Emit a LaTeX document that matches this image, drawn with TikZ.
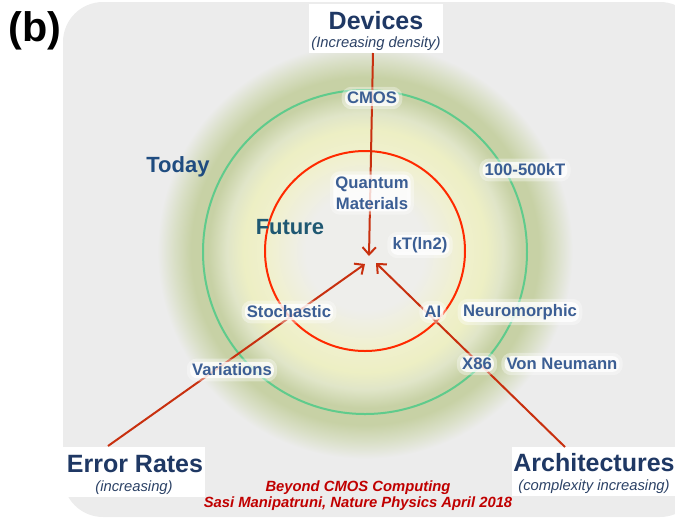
\documentclass[tikz,border=0pt]{standalone}
\usepackage{fontspec}
\setmainfont{Liberation Sans}
\usetikzlibrary{arrows.meta}

\definecolor{bggray}{HTML}{ECECEC}
\definecolor{glowA}{HTML}{EEEEEB}
\definecolor{glowB}{HTML}{F0F0CF}
\definecolor{glowC}{HTML}{EDEFC4}
\definecolor{glowD}{HTML}{E0E5C8}
\definecolor{glowE}{HTML}{C7D1A5}
\definecolor{glowF}{HTML}{D9DFC6}
\definecolor{ringgreen}{HTML}{5FCB8C}
\definecolor{ringred}{HTML}{FF2A00}
\definecolor{arrowred}{HTML}{C8300F}
\definecolor{navy}{HTML}{1F3864}
\definecolor{subnavy}{HTML}{2C4266}
\definecolor{lblblue}{HTML}{3B5E94}
\definecolor{todayblue}{HTML}{1F4C80}
\definecolor{futureteal}{HTML}{1F5872}
\definecolor{credred}{HTML}{C00000}

% soft halo behind the glow ring: gray centre, pale yellow, olive, back to gray
\pgfdeclareradialshading{ringglow}{\pgfpoint{0bp}{0bp}}{%
  color(0bp)=(glowA); color(7bp)=(glowA); color(11.3bp)=(glowB);
  color(14.3bp)=(glowC); color(16.3bp)=(glowD); color(18.5bp)=(glowE);
  color(20.5bp)=(glowE); color(22.5bp)=(glowF); color(24.5bp)=(bggray);
  color(50bp)=(bggray)}

\tikzset{
  whitebox/.style={fill=white, draw=none, inner sep=0pt},
  headfont/.style={font=\fontsize{18.75}{20}\selectfont\bfseries, text=navy, inner sep=0pt},
  subfont/.style={font=\fontsize{11.1}{12}\selectfont\itshape, text=subnavy, inner sep=0pt},
  lbl/.style={font=\fontsize{12.5}{15.75}\selectfont\bfseries, text=lblblue,
    fill=white, fill opacity=0.8, text opacity=1, draw=white, draw opacity=0.35,
    line width=5pt, rounded corners=5pt, inner sep=1.5pt, align=center},
  eralbl/.style={font=\fontsize{16.5}{18}\selectfont\bfseries, inner sep=0pt},
  credit/.style={font=\fontsize{11.1}{12}\selectfont\bfseries\itshape, text=credred, inner sep=0pt},
  ringline/.style={line width=1.5pt},
  arrowline/.style={draw=arrowred, line width=1.5pt, -{Straight Barb[length=5.5pt,width=10pt]}},
}

\begin{document}
\begin{tikzpicture}[x=0.75pt, y=-0.75pt]
\useasboundingbox (0,0) rectangle (675,519);
\clip (0,0) rectangle (675,519);

% panel background
\fill[bggray, rounded corners=30pt] (63,2) rectangle (700,517);

% glow ring (shaded square, larger than the visible halo so no edge shows)
\shade[shading=ringglow] (365-212,251-212) rectangle (365+212,251+212);

% today / future rings
\draw[ringline, ringgreen] (365,252) circle (162);
\draw[ringline, ringred] (365,251) circle (100);

% axis boxes
\node[whitebox, minimum width=100.5pt, minimum height=36.75pt] (dev) at (376,28.5) {};
\node[whitebox, minimum width=106.5pt, minimum height=37.5pt] (err) at (134,472) {};
\node[whitebox, minimum width=126pt, minimum height=36.75pt] (arch) at (596,471.5) {};

% connector end points
\coordinate (devfoot) at (373,53);
\coordinate (errfoot) at (108,446);
\coordinate (archfoot) at (565,447);
\coordinate (hubN) at (369,256);
\coordinate (hubW) at (365,264);
\coordinate (hubE) at (376,263);

\draw[arrowline] (devfoot) -- (hubN);
\draw[arrowline] (errfoot) -- (hubW);
\draw[arrowline] (archfoot) -- (hubE);

% axis titles
\node[headfont] (devt) at (376,21) {Devices};
\node[subfont] (devs) at (376,44) {(Increasing density)};
\node[headfont] (errt) at (135,464) {Error Rates};
\node[subfont] (errs) at (134,488) {(increasing)};
\node[headfont] (archt) at (594,463) {Architectures};
\node[subfont] (archs) at (594,487) {(complexity increasing)};

% era labels
\node[eralbl, text=todayblue] (today) at (178,167) {Today};
\node[eralbl, text=futureteal] (future) at (290,227) {Future};

% ring labels
\node[lbl] (cmos) at (372,98) {CMOS};
\node[lbl] (energy) at (525,170) {100-500kT};
\node[lbl] (quant) at (372,193) {Quantum\\Materials};
\node[lbl] (ktln) at (420,245) {kT(ln2)};
\node[lbl] (stoch) at (289,312) {Stochastic};
\node[lbl] (ai) at (433,312) {AI};
\node[lbl] (neuro) at (520,312) {Neuromorphic};
\node[lbl] (var) at (232,370) {Variations};
\node[lbl] (x86) at (477,364) {X86};
\node[lbl] (vonn) at (562,364) {Von Neumann};

% panel tag and credit
\node[font=\fontsize{31}{33}\selectfont\bfseries, inner sep=0pt] (tag) at (35,31) {(b)};
\node[credit] (cred1) at (358,488) {Beyond CMOS Computing};
\node[credit] (cred2) at (358,504) {Sasi Manipatruni, Nature Physics April 2018};
\end{tikzpicture}
\end{document}
